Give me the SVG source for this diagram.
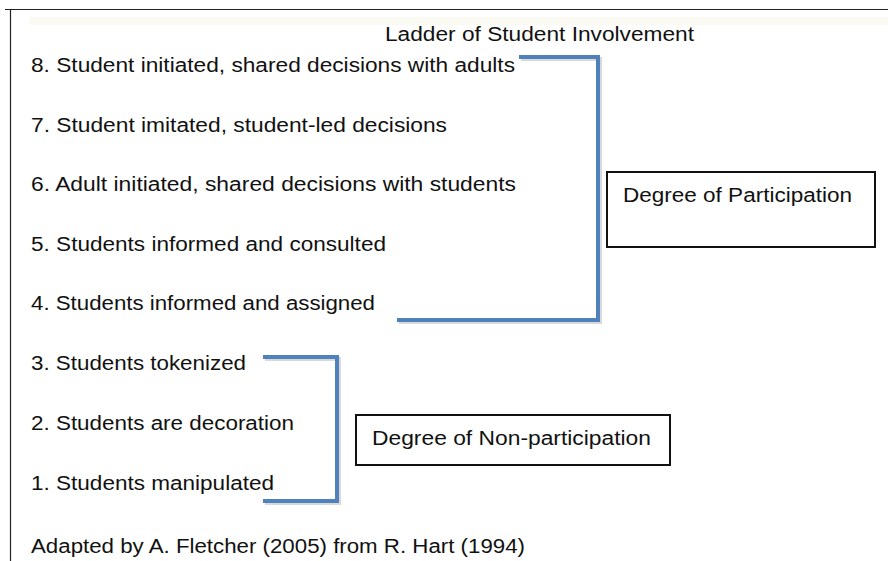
<svg xmlns="http://www.w3.org/2000/svg" width="888" height="561" viewBox="0 0 888 561">
<defs>
<style>
text{font-family:"Liberation Sans",Arial,sans-serif;font-size:20px;fill:#111;}
.br{fill:none;stroke:#4f81bd;stroke-width:4;}
.sh{fill:none;stroke:#000;stroke-opacity:0.15;stroke-width:4;}
.box{fill:#fff;stroke:#111;stroke-width:2;}
</style>
</defs>
<rect width="888" height="561" fill="#fff"/>
<rect x="30" y="17" width="858" height="8" fill="#fafaf2"/>
<path d="M5 9.5H888M10.5 9V561" stroke="#222" stroke-width="1.2" fill="none"/>
<text x="385" y="41" textLength="309" lengthAdjust="spacingAndGlyphs">Ladder of Student Involvement</text>
<g id="levels">
<text x="31" y="72" textLength="484" lengthAdjust="spacingAndGlyphs">8. Student initiated, shared decisions with adults</text>
<text x="31" y="132" textLength="416" lengthAdjust="spacingAndGlyphs">7. Student imitated, student-led decisions</text>
<text x="31" y="191" textLength="485" lengthAdjust="spacingAndGlyphs">6. Adult initiated, shared decisions with students</text>
<text x="31" y="251" textLength="355" lengthAdjust="spacingAndGlyphs">5. Students informed and consulted</text>
<text x="31" y="310" textLength="344" lengthAdjust="spacingAndGlyphs">4. Students informed and assigned</text>
<text x="31" y="370" textLength="215" lengthAdjust="spacingAndGlyphs">3. Students tokenized</text>
<text x="31" y="430" textLength="263" lengthAdjust="spacingAndGlyphs">2. Students are decoration</text>
<text x="31" y="490" textLength="243" lengthAdjust="spacingAndGlyphs">1. Students manipulated</text>
</g>
<g id="connectors">
<path class="sh" d="M521 59H600V322H399"/>
<path class="br" d="M519 57H598V320H397"/>
<path class="sh" d="M265 359H339V503H265"/>
<path class="br" d="M263 357H337V501H263"/>
</g>
<g id="participation">
<rect class="box" x="607" y="172" width="268" height="75"/>
<text x="623" y="202" textLength="229" lengthAdjust="spacingAndGlyphs">Degree of Participation</text>
</g>
<g id="nonparticipation">
<rect class="box" x="356" y="415" width="314" height="50"/>
<text x="372" y="445" textLength="279" lengthAdjust="spacingAndGlyphs">Degree of Non-participation</text>
</g>
<text x="31" y="553" textLength="494" lengthAdjust="spacingAndGlyphs">Adapted by A. Fletcher (2005) from R. Hart (1994)</text>
</svg>
